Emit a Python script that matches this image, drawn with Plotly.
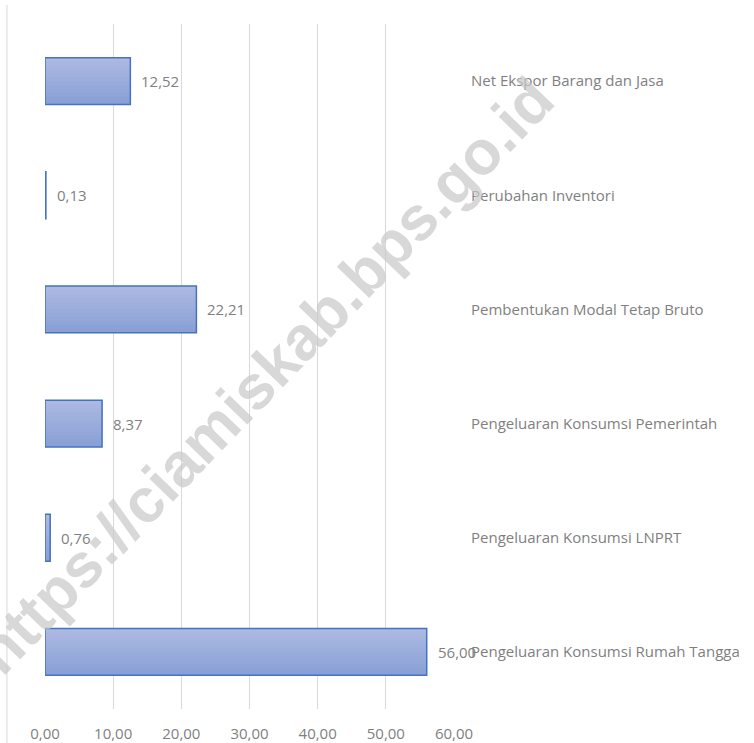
"""Komposisi PDRB menurut pengeluaran - horizontal bar chart."""
import plotly.graph_objects as go

# data, listed bottom to top as they appear on the chart
categories = [
    "Pengeluaran Konsumsi Rumah Tangga",
    "Pengeluaran Konsumsi LNPRT",
    "Pengeluaran Konsumsi Pemerintah",
    "Pembentukan Modal Tetap Bruto",
    "Perubahan Inventori",
    "Net Ekspor Barang dan Jasa",
]
shares = [56.00, 0.76, 8.37, 22.21, 0.13, 12.52]
x_ticks = [0, 10, 20, 30, 40, 50, 60]

WATERMARK = "https://ciamiskab.bps.go.id"
GRAY = "#7f7f7f"
FONT = "Open Sans"
FS = 15
BAR_W = 0.41
TOP_RGB = (172, 185, 225)
BOTTOM_RGB = (137, 160, 214)
N_BANDS = 12

fig = go.Figure()

# vertical gradient inside each bar: each band runs from its start to the
# top of the bar, so later (lighter) bands cover the earlier ones
band = BAR_W / N_BANDS
for i in range(N_BANDS):
    t = i / (N_BANDS - 1)
    rgb = [round(b + (a - b) * t) for a, b in zip(TOP_RGB, BOTTOM_RGB)]
    fig.add_trace(go.Bar(
        x=shares, y=categories, orientation="h",
        width=BAR_W - i * band, offset=-BAR_W / 2 + i * band,
        marker=dict(color=f"rgb({rgb[0]},{rgb[1]},{rgb[2]})", line_width=0),
        hoverinfo="skip", showlegend=False,
    ))

# outline on top
fig.add_trace(go.Bar(
    x=shares, y=categories, orientation="h", width=BAR_W,
    marker=dict(color="rgba(0,0,0,0)", line=dict(color="#4472c4", width=1.5)),
    showlegend=False,
))

for cat, val in zip(categories, shares):
    fig.add_annotation(
        x=val, y=cat, text=f"{val:.2f}".replace(".", ","),
        xanchor="left", xshift=9, showarrow=False,
        font=dict(family=FONT, size=FS, color=GRAY),
    )

fig.add_annotation(
    x=0.5, y=0.5, xref="paper", yref="paper", xshift=15, yshift=-9,
    text=f"<b>{WATERMARK}</b>", textangle=-46, showarrow=False,
    font=dict(family="Liberation Sans", size=62, color="rgba(200,200,200,0.7)"),
)

fig.add_shape(
    type="line", xref="paper", yref="paper",
    x0=-0.093, x1=-0.093, y0=1.028, y1=-0.06,
    line=dict(color="#d9d9d9", width=1),
)

fig.update_layout(
    width=754, height=743,
    margin=dict(l=45, r=300, t=24, b=34, autoexpand=False),
    plot_bgcolor="white", paper_bgcolor="white",
    barmode="overlay", separators=",.",
    font=dict(family=FONT, size=FS, color=GRAY),
    xaxis=dict(
        range=[0, 60], tickvals=x_ticks, tickformat=".2f", automargin=False,
        showgrid=True, gridcolor="#d9d9d9", gridwidth=1,
        zeroline=False, showline=False, ticks="",
        ticklabelstandoff=14, tickfont=dict(size=FS, color=GRAY),
    ),
    yaxis=dict(
        side="right", categoryorder="array", categoryarray=categories,
        automargin=False, showgrid=False, zeroline=False, showline=False,
        ticks="", ticklabelstandoff=16, tickfont=dict(size=FS, color=GRAY),
    ),
)

# drop the browser's default body margin so the figure sits at the corner
fig.write_html(
    "out.html",
    config={"displayModeBar": False},
    post_script="document.body.style.margin='0';document.body.style.overflow='hidden';",
)
